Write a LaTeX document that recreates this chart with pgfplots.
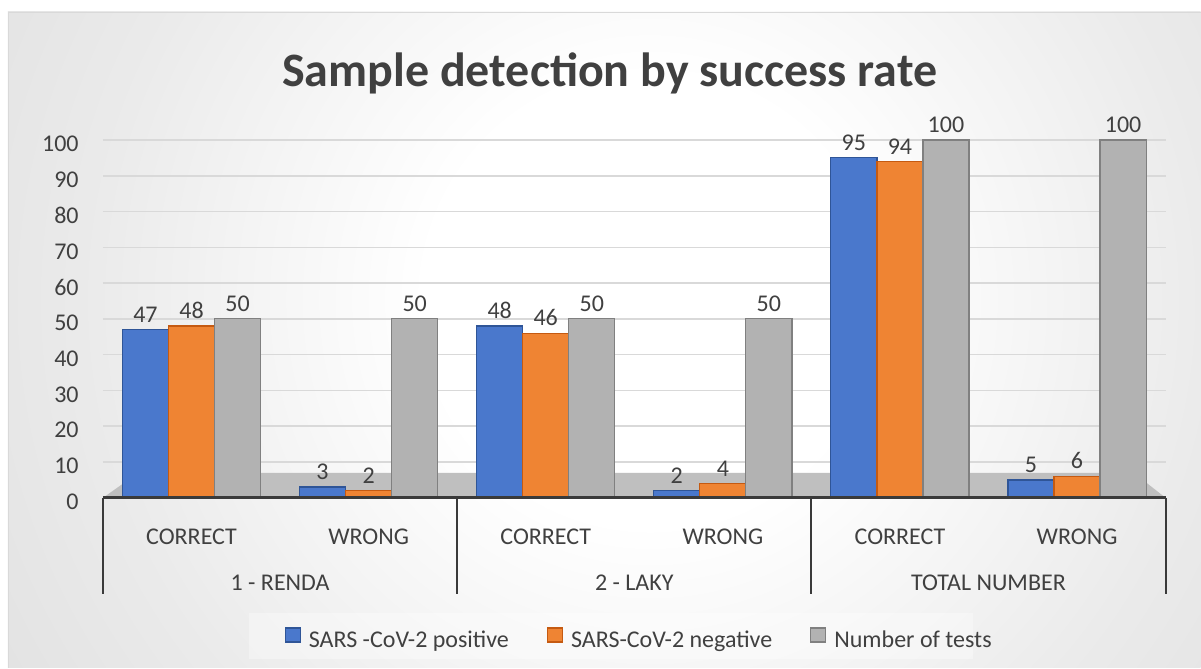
\documentclass[border=0pt]{standalone}
\usepackage{pgfplots}
\pgfplotsset{compat=1.18}
\usepackage{fontspec}
\setmainfont{Carlito}
\definecolor{txt}{HTML}{404040}
\definecolor{barblue}{HTML}{4A78CC}
\definecolor{bluedark}{HTML}{2F5597}
\definecolor{barorange}{HTML}{EF8433}
\definecolor{orangedark}{HTML}{C55A11}
\definecolor{bargray}{HTML}{B2B2B2}
\definecolor{graydark}{HTML}{808080}
\definecolor{gridgray}{HTML}{D9D9D9}
\definecolor{floorgray}{HTML}{BFBFBF}
\definecolor{axisdark}{HTML}{3A3A3A}
\pgfdeclareradialshading{bgshade}{\pgfpoint{0bp}{0bp}}{%
  color(0bp)=(white); color(8bp)=(white); color(20bp)=(white!92!black);
  color(35bp)=(white!85!black); color(46bp)=(white!78!black); color(55bp)=(white!74!black); color(60bp)=(white!74!black)}
\begin{document}
\begin{tikzpicture}
% page size
\fill[white] (0pt,0pt) rectangle (600.5pt,334pt);
\begin{scope}
\clip (4pt,0pt) rectangle (600.5pt,328pt);
\shade[shading=bgshade] (-25pt,-166pt) rectangle (675pt,534pt);
\end{scope}
\draw[white!85!black, line width=0.4pt] (4pt,0pt) -- (4pt,328pt) -- (600.5pt,328pt);
% legend box
\fill[white, opacity=0.35] (124.5pt,4.5pt) rectangle (486.5pt,27.5pt);
% title
\node[anchor=base, font=\fontsize{24}{28}\selectfont\bfseries, text=txt] at (305pt,290.5pt) {Sample detection by success rate};
\begin{axis}[
  at={(51.5pt,85pt)}, anchor=south west,
  scale only axis, width=531.5pt, height=179pt,
  xmin=-0.5, xmax=5.5, ymin=0, ymax=100,
  ybar=0pt, bar width=0.26,
  xtick={0,...,5},
  xticklabels={CORRECT,WRONG,CORRECT,WRONG,CORRECT,WRONG},
  ytick={0,10,...,100},
  ymajorgrids, grid style={draw=gridgray, line width=0.8pt},
  axis line style={draw=none},
  major tick length=0pt,
  tick label style={font=\fontsize{12}{14}\selectfont, text=txt},
  /pgf/number format/assume math mode=true,
  xticklabel style={anchor=base, yshift=-23.5pt},
  yticklabel style={anchor=east, inner sep=0pt, xshift=-12pt, yshift=-2pt},
  nodes near coords,
  nodes near coords style={font=\fontsize{12}{14}\selectfont, text=txt},
  clip=false,
  legend style={at={(0.165,-0.40)}, anchor=west, draw=none, fill=none,
    legend columns=3, font=\fontsize{12}{14}\selectfont, text=txt,
    /tikz/every even column/.append style={column sep=17pt},
    /tikz/every odd column/.append style={column sep=2pt}},
  legend image code/.code={\draw[#1, line width=0.6pt] (0pt,-0.5pt) rectangle (7.5pt,6.5pt);},
]
\fill[floorgray] (axis cs:-0.5,0) -- (axis cs:-0.3,7) -- (axis cs:5.32,7) -- (axis cs:5.5,0) -- cycle;
\addplot[fill=barblue, draw=bluedark, line width=0.6pt] coordinates {(0,47) (1,3) (2,48) (3,2) (4,95) (5,5)};
\addlegendentry{SARS -CoV-2 positive}
\addplot[fill=barorange, draw=orangedark, line width=0.6pt] coordinates {(0,48) (1,2) (2,46) (3,4) (4,94) (5,6)};
\addlegendentry{SARS-CoV-2 negative}
\addplot[fill=bargray, draw=graydark, line width=0.6pt] coordinates {(0,50) (1,50) (2,50) (3,50) (4,100) (5,100)};
\addlegendentry{Number of tests}
\draw[axisdark, line width=1.5pt] (axis cs:-0.5,0) -- (axis cs:5.5,0);
\draw[axisdark, line width=1.1pt] (axis cs:-0.5,0) -- ++(0pt,-48pt);
\draw[axisdark, line width=1.1pt] (axis cs:1.5,0) -- ++(0pt,-48pt);
\draw[axisdark, line width=1.1pt] (axis cs:3.5,0) -- ++(0pt,-48pt);
\draw[axisdark, line width=1.1pt] (axis cs:5.5,0) -- ++(0pt,-48pt);
\node[anchor=base, font=\fontsize{12}{14}\selectfont, text=txt] at ([yshift=-46.5pt]axis cs:0.5,0) {1 - RENDA};
\node[anchor=base, font=\fontsize{12}{14}\selectfont, text=txt] at ([yshift=-46.5pt]axis cs:2.5,0) {2 - LAKY};
\node[anchor=base, font=\fontsize{12}{14}\selectfont, text=txt] at ([yshift=-46.5pt]axis cs:4.5,0) {TOTAL NUMBER};
\end{axis}
\end{tikzpicture}
\end{document}
